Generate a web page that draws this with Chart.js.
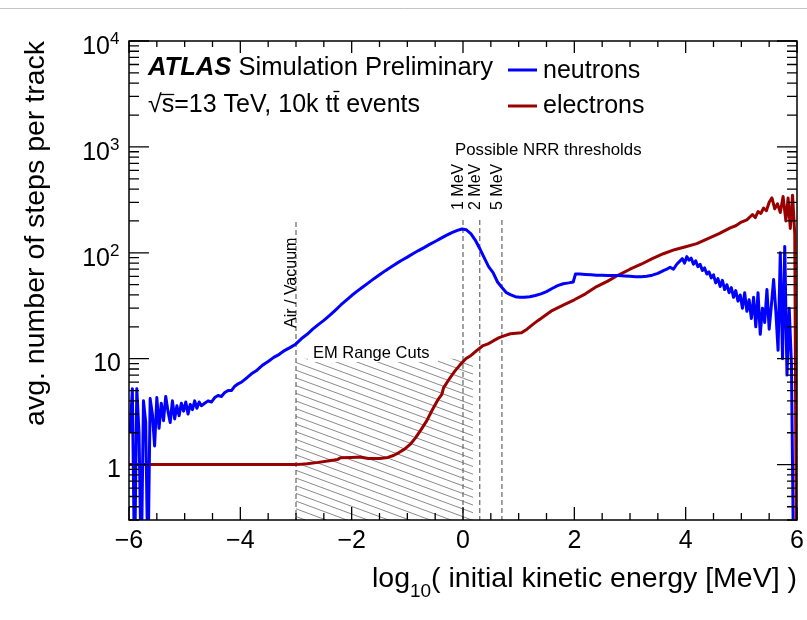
<!DOCTYPE html>
<html>
<head>
<meta charset="utf-8">
<script src="https://cdn.jsdelivr.net/npm/chart.js@4"></script>
<style>
  html, body { margin: 0; padding: 0; background: #fff; }
  canvas { display: block; }
</style>
</head>
<body>
<canvas id="chart" width="807" height="620"></canvas>
<script>
// log10(E/MeV) bin centres and avg. steps per track
const neutronX = [
  -5.98, -5.94, -5.90, -5.86, -5.82, -5.78, -5.74, -5.70, -5.66, -5.62,
  -5.58, -5.54, -5.50, -5.46, -5.42, -5.38, -5.34, -5.30, -5.26, -5.22,
  -5.18, -5.14, -5.10, -5.06, -5.02, -4.98, -4.94, -4.90, -4.86, -4.82,
  -4.78, -4.74, -4.70, -4.64, -4.58, -4.52, -4.46, -4.40, -4.34, -4.28,
  -4.22, -4.16, -4.10, -4.04, -3.98, -3.90, -3.80, -3.70, -3.60, -3.50,
  -3.40, -3.30, -3.20, -3.10, -3.00, -2.90, -2.80, -2.70, -2.60, -2.50,
  -2.40, -2.30, -2.20, -2.10, -2.00, -1.90, -1.80, -1.70, -1.60, -1.50,
  -1.40, -1.30, -1.20, -1.10, -1.00, -0.90, -0.80, -0.70, -0.60, -0.50,
  -0.40, -0.30, -0.20, -0.10, -0.02, 0.06, 0.14, 0.22, 0.30, 0.38,
  0.46, 0.54, 0.62, 0.70, 0.78, 0.86, 0.94, 1.02, 1.10, 1.20,
  1.30, 1.40, 1.50, 1.60, 1.70, 1.80, 1.90, 1.98, 2.02, 2.10,
  2.20, 2.30, 2.40, 2.50, 2.60, 2.70, 2.80, 2.90, 3.00, 3.10,
  3.20, 3.30, 3.40, 3.50, 3.60, 3.66, 3.72, 3.78, 3.84, 3.90,
  3.94, 3.98, 4.02, 4.06, 4.10, 4.14, 4.18, 4.22, 4.26, 4.30,
  4.34, 4.38, 4.42, 4.46, 4.50, 4.54, 4.58, 4.62, 4.66, 4.70,
  4.74, 4.78, 4.82, 4.86, 4.90, 4.94, 4.98, 5.02, 5.06, 5.10,
  5.14, 5.18, 5.22, 5.26, 5.30, 5.34, 5.38, 5.42, 5.46, 5.50,
  5.54, 5.58, 5.62, 5.66, 5.70, 5.74, 5.78, 5.82, 5.86, 5.90,
  5.94, 5.98
];
const neutronY = [
  2.0, 5.2, 0.1, 5.2, 2.0, 0.1, 4.0, 2.5, 0.1, 4.2,
  3.0, 1.5, 4.3, 2.2, 3.8, 2.6, 4.4, 3.2, 2.5, 4.0,
  2.7, 3.6, 2.9, 3.8, 3.2, 3.9, 3.0, 3.7, 3.3, 4.0,
  3.4, 3.9, 3.6, 3.8, 4.0, 3.9, 4.3, 4.5, 4.4, 4.8,
  5.0, 5.0, 5.5, 5.8, 6.0, 6.5, 7.2, 7.8, 8.7, 9.4,
  10.3, 11.0, 12.0, 12.8, 13.8, 15.5, 17, 19, 21, 23,
  25.5, 28.5, 32, 35.5, 39.5, 43.5, 47.5, 52, 57, 62,
  67.5, 73, 79, 85, 91, 98, 105, 112, 120, 128,
  137, 146, 155, 163, 168, 165, 152, 132, 110, 90,
  74, 65, 53, 47, 42, 40, 38.5, 38, 38, 38.5,
  39.5, 41, 43, 46, 49, 51, 52, 53, 63, 63,
  62.5, 62, 61.5, 61.5, 61, 61, 61, 60.5, 60, 59.5,
  59.5, 60, 61.5, 64, 68, 70, 73, 70, 78, 84,
  88, 80, 92, 85, 89, 78, 84, 74, 78, 68,
  72, 63, 66, 58, 62, 52, 57, 48, 55, 45,
  50, 42, 47, 38, 44, 35, 40, 30, 42, 28,
  36, 24, 38, 20, 42, 17, 30, 22, 45, 19,
  32, 56, 28, 12, 100, 10, 115, 7, 30, 9,
  0.1, 0.1
];
const electronX = [
  -6.00, -3.00, -2.80, -2.60, -2.40, -2.25, -2.20, -2.00, -1.85, -1.70,
  -1.50, -1.35, -1.25, -1.15, -1.05, -0.95, -0.85, -0.75, -0.65, -0.55,
  -0.45, -0.38, -0.35, -0.25, -0.15, -0.05, 0.05, 0.15, 0.25, 0.35,
  0.45, 0.55, 0.65, 0.75, 0.85, 0.95, 1.05, 1.15, 1.25, 1.35,
  1.45, 1.60, 1.80, 2.00, 2.20, 2.40, 2.60, 2.80, 3.00, 3.20,
  3.40, 3.60, 3.80, 4.00, 4.20, 4.40, 4.60, 4.80, 4.90, 5.00,
  5.10, 5.20, 5.25, 5.30, 5.35, 5.40, 5.45, 5.50, 5.55, 5.60,
  5.65, 5.70, 5.75, 5.80, 5.84, 5.88, 5.92, 5.96, 5.99
];
const electronY = [
  1.0, 1.0, 1.02, 1.05, 1.09, 1.12, 1.16, 1.17, 1.18, 1.14,
  1.14, 1.17, 1.22, 1.3, 1.4, 1.55, 1.8, 2.15, 2.6, 3.3,
  4.1, 4.6, 5.3, 6.4, 7.6, 8.8, 10.0, 10.8, 12.0, 13.2,
  13.8, 14.8, 15.8, 16.5, 17.2, 17.4, 17.6, 19, 21, 23,
  25, 28.5, 32, 36, 41, 48, 54, 62, 70, 78,
  88, 98, 107, 114, 122, 136, 152, 172, 180, 195,
  205, 230, 215, 245, 235, 265, 250, 300, 330, 260,
  290, 240, 340, 200, 330, 170, 350, 150, 0.1
];

const xTickLabels = ['\u22126', '\u22124', '\u22122', '0', '2', '4', '6'];
const xTickValues = [-6, -4, -2, 0, 2, 4, 6];
const yDecades = [1, 10, 100, 1000, 10000];

// annotations
const airVacuumX = -3;
const nrrThresholds = [{ x: 0, label: '1 MeV' }, { x: Math.log10(2), label: '2 MeV' }, { x: Math.log10(5), label: '5 MeV' }];
const emCutRange = [-3, 0.18];
const emCutTop = 10;

const FONT = '"Liberation Sans", Arial, Helvetica, sans-serif';
const BLUE = '#0000ff';
const RED = '#990000';

function toPoints(xs, ys) {
  return xs.map((x, i) => ({ x: x, y: ys[i] }));
}

const decor = {
  id: 'decor',
  beforeDatasetsDraw(chart) {
    const ctx = chart.ctx;
    const xs = chart.scales.x;
    const ys = chart.scales.y;
    const area = chart.chartArea;
    ctx.save();

    // hatched EM range cut region
    const hx0 = xs.getPixelForValue(emCutRange[0]);
    const hx1 = xs.getPixelForValue(emCutRange[1]);
    const hy0 = ys.getPixelForValue(emCutTop);
    ctx.save();
    ctx.beginPath();
    ctx.rect(hx0, hy0, hx1 - hx0, area.bottom - hy0);
    ctx.clip();
    ctx.strokeStyle = '#8a8a8a';
    ctx.lineWidth = 1;
    const slope = 0.37;
    const gap = 7.7;
    for (let y = hy0 - slope * (hx1 - hx0) - gap; y < area.bottom + gap; y += gap) {
      ctx.beginPath();
      ctx.moveTo(hx0, y);
      ctx.lineTo(hx1, y + slope * (hx1 - hx0));
      ctx.stroke();
    }
    ctx.restore();

    // label box
    ctx.fillStyle = '#fff';
    ctx.fillRect(308, 342, 130, 20);
    ctx.fillStyle = '#000';
    ctx.font = '16.5px ' + FONT;
    ctx.textAlign = 'left';
    ctx.textBaseline = 'alphabetic';
    ctx.fillText('EM Range Cuts', 313, 358);

    // dashed lines
    ctx.strokeStyle = '#666';
    ctx.lineWidth = 1.2;
    ctx.setLineDash([5, 3]);
    const av = xs.getPixelForValue(airVacuumX);
    ctx.beginPath();
    ctx.moveTo(av, 222);
    ctx.lineTo(av, area.bottom);
    ctx.stroke();
    nrrThresholds.forEach((t) => {
      const px = xs.getPixelForValue(t.x);
      ctx.beginPath();
      ctx.moveTo(px, 220);
      ctx.lineTo(px, area.bottom);
      ctx.stroke();
    });
    ctx.setLineDash([]);

    // rotated labels
    ctx.fillStyle = '#000';
    ctx.font = '16px ' + FONT;
    const vert = (text, x, y) => {
      ctx.save();
      ctx.translate(x, y);
      ctx.rotate(-Math.PI / 2);
      ctx.textAlign = 'left';
      ctx.fillText(text, 0, 0);
      ctx.restore();
    };
    vert('Air / Vacuum', av, 328);
    nrrThresholds.forEach((t) => vert(t.label, xs.getPixelForValue(t.x), 210));
    ctx.font = '16.8px ' + FONT;
    ctx.fillText('Possible NRR thresholds', 455, 155);
    ctx.restore();
  },
  afterDatasetsDraw(chart) {
    const ctx = chart.ctx;
    const xs = chart.scales.x;
    const ys = chart.scales.y;
    const a = chart.chartArea;
    ctx.save();

    // thin grey rule at very top of the picture
    ctx.strokeStyle = '#c4c4c4';
    ctx.lineWidth = 1;
    ctx.beginPath();
    ctx.moveTo(0, 8.5);
    ctx.lineTo(807, 8.5);
    ctx.stroke();

    // frame
    ctx.strokeStyle = '#000';
    ctx.lineWidth = 1.5;
    ctx.strokeRect(a.left, a.top, a.right - a.left, a.bottom - a.top);

    // x ticks (bottom and top)
    ctx.lineWidth = 1.3;
    for (let v = -6; v <= 6.001; v += 0.5) {
      const px = xs.getPixelForValue(v);
      const major = Math.abs(v % 2) < 1e-6;
      ctx.beginPath();
      ctx.moveTo(px, a.bottom);
      ctx.lineTo(px, a.bottom - (major ? 13 : 7));
      ctx.moveTo(px, a.top);
      ctx.lineTo(px, a.top + (major ? 12 : 6));
      ctx.stroke();
    }
    // y ticks (left and right)
    const yTick = (v, len) => {
      const py = ys.getPixelForValue(v);
      ctx.beginPath();
      ctx.moveTo(a.left, py);
      ctx.lineTo(a.left + len, py);
      ctx.moveTo(a.right, py);
      ctx.lineTo(a.right - len, py);
      ctx.stroke();
    };
    for (let m = 3; m <= 9; m++) yTick(m / 10, 10);
    yDecades.forEach((d) => {
      yTick(d, 20);
      if (d < 10000) for (let m = 2; m <= 9; m++) yTick(d * m, 10);
    });

    // tick labels
    ctx.fillStyle = '#000';
    ctx.font = '25px ' + FONT;
    ctx.textAlign = 'center';
    ctx.textBaseline = 'alphabetic';
    xTickValues.forEach((v, i) => ctx.fillText(xTickLabels[i], xs.getPixelForValue(v), 548));
    yDecades.forEach((d) => {
      const py = ys.getPixelForValue(d);
      const e = Math.round(Math.log10(d));
      ctx.textAlign = 'right';
      if (e < 2) {
        ctx.font = '25px ' + FONT;
        ctx.fillText(String(d), 121, py + 12);
      } else {
        ctx.font = '25px ' + FONT;
        ctx.fillText('10', 110, py + 13);
        ctx.font = '17px ' + FONT;
        ctx.textAlign = 'left';
        ctx.fillText(String(e), 110, py + 3);
      }
    });

    // axis titles
    ctx.textAlign = 'left';
    const big = '28.5px ' + FONT;
    const sub = '19px ' + FONT;
    ctx.font = big;
    const w1 = ctx.measureText('log').width;
    const w3 = ctx.measureText('( initial kinetic energy [MeV] )').width;
    ctx.font = sub;
    const w2 = ctx.measureText('10').width;
    let x0 = a.right - (w1 + w2 + w3);
    ctx.font = big;
    ctx.fillText('log', x0, 587);
    ctx.font = sub;
    ctx.fillText('10', x0 + w1, 597);
    ctx.font = big;
    ctx.fillText('( initial kinetic energy [MeV] )', x0 + w1 + w2, 587);

    ctx.save();
    ctx.translate(44, a.top);
    ctx.rotate(-Math.PI / 2);
    ctx.textAlign = 'right';
    ctx.font = big;
    ctx.fillText('avg. number of steps per track', 0, 0);
    ctx.restore();

    // ATLAS label
    ctx.textAlign = 'left';
    ctx.font = 'italic bold 25.6px ' + FONT;
    ctx.fillText('ATLAS', 148, 75);
    const wa = ctx.measureText('ATLAS').width;
    ctx.font = '25.6px ' + FONT;
    ctx.fillText(' Simulation Preliminary', 148 + wa, 75);

    // sqrt(s)=13 TeV, 10k ttbar events
    ctx.font = '25px ' + FONT;
    let cx = 148;
    ctx.fillText('\u221A', cx, 112);
    cx += ctx.measureText('\u221A').width;
    const ws = ctx.measureText('s').width;
    ctx.fillText('s', cx, 112);
    ctx.lineWidth = 1.3;
    ctx.beginPath();
    ctx.moveTo(cx - 1, 94.5);
    ctx.lineTo(cx + ws, 94.5);
    ctx.stroke();
    cx += ws;
    const part = '=13 TeV, 10k t';
    ctx.fillText(part, cx, 112);
    cx += ctx.measureText(part).width;
    const wt = ctx.measureText('t').width;
    ctx.fillText('t', cx, 112);
    ctx.beginPath();
    ctx.moveTo(cx + 1, 91.5);
    ctx.lineTo(cx + wt, 91.5);
    ctx.stroke();
    cx += wt;
    ctx.fillText(' events', cx, 112);

    // legend
    const leg = [{ c: BLUE, t: 'neutrons', y: 70, b: 78 }, { c: RED, t: 'electrons', y: 106, b: 113 }];
    leg.forEach((l) => {
      ctx.strokeStyle = l.c;
      ctx.lineWidth = 3;
      ctx.beginPath();
      ctx.moveTo(508, l.y);
      ctx.lineTo(537, l.y);
      ctx.stroke();
      ctx.fillStyle = '#000';
      ctx.fillText(l.t, 543, l.b);
    });
    ctx.restore();
  }
};

new Chart(document.getElementById('chart'), {
  type: 'line',
  data: {
    datasets: [
      {
        label: 'neutrons',
        data: toPoints(neutronX, neutronY),
        borderColor: BLUE,
        borderWidth: 3,
        pointRadius: 0,
        fill: false,
        tension: 0,
        borderJoinStyle: 'round',
        clip: 0
      },
      {
        label: 'electrons',
        data: toPoints(electronX, electronY),
        borderColor: RED,
        borderWidth: 3,
        pointRadius: 0,
        fill: false,
        tension: 0,
        borderJoinStyle: 'round',
        clip: 0
      }
    ]
  },
  options: {
    responsive: false,
    animation: false,
    layout: { padding: { left: 129, right: 10, top: 41, bottom: 100 } },
    scales: {
      x: { type: 'linear', min: -6, max: 6, display: false },
      y: { type: 'logarithmic', min: 0.3, max: 10000, display: false }
    },
    plugins: { legend: { display: false }, tooltip: { enabled: false } }
  },
  plugins: [decor]
});
</script>
</body>
</html>
